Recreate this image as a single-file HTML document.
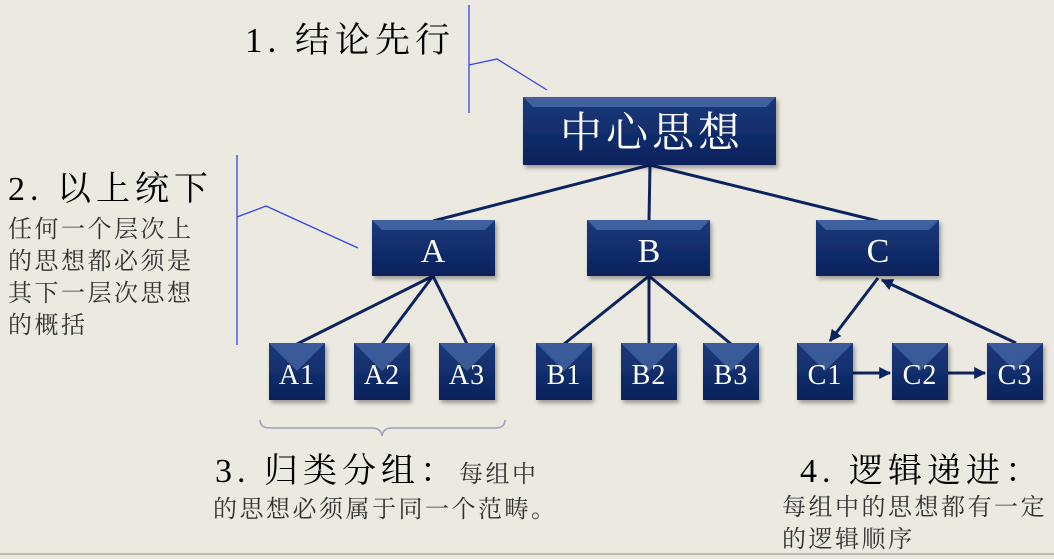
<!DOCTYPE html>
<html><head><meta charset="utf-8"><style>
html,body{margin:0;padding:0;background:#ECEAE0;}
svg{display:block}
text{font-family:"Liberation Serif","Noto Serif CJK SC",serif;}
</style></head><body>
<svg width="1054" height="559" viewBox="0 0 1054 559" xmlns="http://www.w3.org/2000/svg">
<defs>
<linearGradient id="g" x1="0" y1="0" x2="0" y2="1">
<stop offset="0" stop-color="#1a3a7c"/><stop offset="1" stop-color="#0a225c"/>
</linearGradient>
<filter id="sh" x="-10%" y="-10%" width="130%" height="130%"><feDropShadow dx="2" dy="3" stdDeviation="2" flood-color="#000" flood-opacity="0.35"/></filter>
<marker id="ar" viewBox="0 0 10 10" refX="9" refY="5" markerWidth="4" markerHeight="4" orient="auto"><path d="M0,0L10,5L0,10z" fill="#0b2460"/></marker>
</defs>
<rect width="1054" height="559" fill="#ECEAE0"/>
<line x1="0" y1="554" x2="1054" y2="554" stroke="#bdbab0" stroke-width="2"/>

<g stroke="#0b2460" stroke-width="3" fill="none">
<line x1="650" y1="165" x2="433" y2="221"/>
<line x1="650" y1="165" x2="649" y2="221"/>
<line x1="650" y1="165" x2="878" y2="221"/>
<line x1="433" y1="276" x2="297" y2="344"/>
<line x1="433" y1="276" x2="382" y2="344"/>
<line x1="433" y1="276" x2="467" y2="344"/>
<line x1="649" y1="276" x2="564" y2="344"/>
<line x1="649" y1="276" x2="649" y2="344"/>
<line x1="649" y1="276" x2="731" y2="344"/>
<line x1="878" y1="278" x2="830" y2="341" marker-end="url(#ar)"/>
<line x1="1016" y1="343" x2="882" y2="280" marker-end="url(#ar)"/>
<line x1="853" y1="373" x2="890" y2="373" marker-end="url(#ar)"/>
<line x1="948" y1="373" x2="985" y2="373" marker-end="url(#ar)"/>
</g>

<g filter="url(#sh)">
<rect x="523" y="97" width="253" height="68" fill="url(#g)"/>
<polygon points="523,97 776,97 766,107 533,107" fill="#4a6aa8" opacity="0.8"/>
<rect x="372" y="220" width="123" height="56" fill="url(#g)"/>
<polygon points="372,220 495,220 485,230 382,230" fill="#4a6aa8" opacity="0.8"/>
<rect x="587" y="220" width="123" height="56" fill="url(#g)"/>
<polygon points="587,220 710,220 700,230 597,230" fill="#4a6aa8" opacity="0.8"/>
<rect x="816" y="220" width="123" height="56" fill="url(#g)"/>
<polygon points="816,220 939,220 929,230 826,230" fill="#4a6aa8" opacity="0.8"/>
</g>
<g filter="url(#sh)" fill="url(#g)">
<rect x="269" y="343" width="56" height="57"/><rect x="354" y="343" width="56" height="57"/><rect x="439" y="343" width="56" height="57"/>
<rect x="536" y="343" width="56" height="57"/><rect x="621" y="343" width="56" height="57"/><rect x="703" y="343" width="56" height="57"/>
<rect x="797" y="343" width="56" height="57"/><rect x="892" y="343" width="56" height="57"/><rect x="987" y="343" width="56" height="57"/>
</g>
<g fill="#4a6aa8" opacity="0.7">
<polygon points="269,343 325,343 297,371"/><polygon points="354,343 410,343 382,371"/><polygon points="439,343 495,343 467,371"/>
<polygon points="536,343 592,343 564,371"/><polygon points="621,343 677,343 649,371"/><polygon points="703,343 759,343 731,371"/>
<polygon points="797,343 853,343 825,371"/><polygon points="892,343 948,343 920,371"/><polygon points="987,343 1043,343 1015,371"/>
</g>
<g fill="#fff" text-anchor="middle">
<text x="652" y="147" font-size="42" letter-spacing="4">中心思想</text>
<text x="433" y="262" font-size="34">A</text>
<text x="649" y="262" font-size="34">B</text>
<text x="878" y="262" font-size="34">C</text>
<g font-size="28" letter-spacing="1">
<text x="297" y="384">A1</text><text x="382" y="384">A2</text><text x="467" y="384">A3</text>
<text x="564" y="384">B1</text><text x="649" y="384">B2</text><text x="731" y="384">B3</text>
<text x="825" y="384">C1</text><text x="920" y="384">C2</text><text x="1015" y="384">C3</text>
</g>
</g>

<g stroke="#3344ee" stroke-width="1.3" fill="none">
<line x1="469" y1="5" x2="469" y2="113"/>
<polyline points="469,65 497,59 547,90"/>
<line x1="237" y1="155" x2="237" y2="345"/>
<polyline points="237,217 266,206 358,248"/>
</g>
<path d="M260,420 Q260,428 270,428 L372,428 Q381,428 382,436 Q383,428 392,428 L495,428 Q505,428 505,420" stroke="#9aa0c0" stroke-width="1.5" fill="none"/>

<text x="245" y="52" font-size="35" fill="#000" letter-spacing="5">1. 结论先行</text>
<text x="8" y="200" font-size="34" fill="#000" letter-spacing="5">2. 以上统下</text>
<g font-size="24" fill="#333" letter-spacing="2.5">
<text x="8" y="237">任何一个层次上</text>
<text x="8" y="269">的思想都必须是</text>
<text x="8" y="301">其下一层次思想</text>
<text x="8" y="333">的概括</text>
</g>
<text x="215" y="482" font-size="34" fill="#000" letter-spacing="5">3. 归类分组：<tspan font-size="24" fill="#333" letter-spacing="2.5">每组中</tspan></text>
<text x="213" y="517" font-size="24" fill="#333" letter-spacing="2.5">的思想必须属于同一个范畴。</text>
<text x="800" y="482" font-size="34" fill="#000" letter-spacing="5">4. 逻辑递进：</text>
<text x="782" y="515" font-size="24" fill="#333" letter-spacing="2.5">每组中的思想都有一定</text>
<text x="782" y="547" font-size="24" fill="#333" letter-spacing="2.5">的逻辑顺序</text>
</svg>
</body></html>
